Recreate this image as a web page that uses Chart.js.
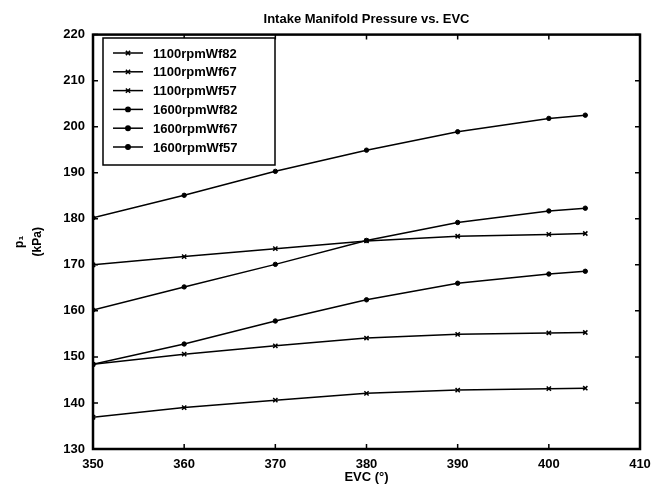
<!DOCTYPE html>
<html>
<head>
<meta charset="utf-8">
<script src="https://cdn.jsdelivr.net/npm/chart.js@4.4.1/dist/chart.umd.min.js"></script>
<style>
  html, body { margin: 0; padding: 0; background: #fff; }
  #wrap { width: 663px; height: 486px; }
</style>
</head>
<body>
<div id="wrap"><canvas id="chart"></canvas></div>
<script>
// EVC angle (deg) where each run was measured
const evc = [350, 360, 370, 380, 390, 400, 404];

// intake manifold pressure p1 (kPa) per run
const rpm1100Wf82 = [170.0, 171.8, 173.5, 175.2, 176.2, 176.6, 176.8];
const rpm1100Wf67 = [148.4, 150.6, 152.4, 154.1, 154.9, 155.2, 155.3];
const rpm1100Wf57 = [136.9, 139.0, 140.6, 142.1, 142.8, 143.1, 143.2];
const rpm1600Wf82 = [180.2, 185.1, 190.3, 194.9, 198.9, 201.8, 202.5];
const rpm1600Wf67 = [160.2, 165.2, 170.1, 175.3, 179.2, 181.7, 182.3];
const rpm1600Wf57 = [148.4, 152.8, 157.8, 162.4, 166.0, 168.0, 168.6];

const seriesNames = ['1100rpmWf82', '1100rpmWf67', '1100rpmWf57', '1600rpmWf82', '1600rpmWf67', '1600rpmWf57'];
const seriesValues = [rpm1100Wf82, rpm1100Wf67, rpm1100Wf57, rpm1600Wf82, rpm1600Wf67, rpm1600Wf57];

const xTicks = [350, 360, 370, 380, 390, 400, 410];
const yTicks = [130, 140, 150, 160, 170, 180, 190, 200, 210, 220];

const FONT = 'Liberation Sans, Arial, sans-serif';

const datasets = seriesValues.map((vals, i) => {
  const is1100 = i < 3;
  return {
    label: seriesNames[i],
    data: vals.map((v, k) => ({ x: evc[k], y: v })),
    showLine: true,
    borderColor: '#000',
    backgroundColor: '#000',
    borderWidth: 1.5,
    pointStyle: is1100 ? 'crossRot' : 'circle',
    pointRadius: is1100 ? 3 : 2.2,
    pointBorderWidth: is1100 ? 1.5 : 1,
    tension: 0
  };
});

// frame on all four sides plus inward ticks, matlab style
const framePlugin = {
  id: 'frame',
  afterDatasetsDraw(chart) {
    const { ctx, chartArea: a, scales } = chart;
    ctx.save();
    ctx.strokeStyle = '#000';
    ctx.lineWidth = 1.5;
    ctx.beginPath();
    xTicks.forEach(t => {
      const px = scales.x.getPixelForValue(t);
      ctx.moveTo(px, a.bottom); ctx.lineTo(px, a.bottom - 5);
      ctx.moveTo(px, a.top); ctx.lineTo(px, a.top + 5);
    });
    yTicks.forEach(t => {
      const py = scales.y.getPixelForValue(t);
      ctx.moveTo(a.left, py); ctx.lineTo(a.left + 5, py);
      ctx.moveTo(a.right, py); ctx.lineTo(a.right - 5, py);
    });
    ctx.stroke();
    ctx.lineWidth = 2.5;
    ctx.strokeRect(a.left, a.top, a.right - a.left, a.bottom - a.top);
    ctx.restore();
  }
};

// boxed legend inside the plot, top-left
const legendPlugin = {
  id: 'boxLegend',
  afterDraw(chart) {
    const { ctx } = chart;
    const left = 103, top = 38, w = 172, h = 127, rowH = 18.8;
    ctx.save();
    ctx.fillStyle = '#fff';
    ctx.fillRect(left, top, w, h);
    ctx.strokeStyle = '#000';
    ctx.lineWidth = 1.5;
    ctx.strokeRect(left, top, w, h);
    ctx.font = 'bold 13px ' + FONT;
    ctx.textBaseline = 'middle';
    chart.data.datasets.forEach((ds, i) => {
      const y = top + 15 + i * rowH;
      ctx.strokeStyle = '#000';
      ctx.fillStyle = '#000';
      ctx.lineWidth = 1.5;
      ctx.beginPath();
      ctx.moveTo(113, y); ctx.lineTo(143, y);
      ctx.stroke();
      Chart.helpers.drawPoint(ctx, {
        pointStyle: ds.pointStyle, radius: ds.pointRadius, borderWidth: ds.pointBorderWidth
      }, 128, y);
      if (ds.pointStyle === 'circle') ctx.fill();
      ctx.fillText(ds.label, 153, y + 1);
    });
    ctx.restore();
  }
};

new Chart(document.getElementById('chart'), {
  type: 'scatter',
  data: { datasets },
  plugins: [framePlugin, legendPlugin],
  options: {
    responsive: true,
    maintainAspectRatio: false,
    animation: false,
    layout: { padding: { left: 0, right: 23, top: 0, bottom: 0 } },
    plugins: {
      legend: { display: false },
      tooltip: { enabled: false },
      title: {
        display: true,
        text: 'Intake Manifold Pressure vs. EVC',
        fullSize: false,
        color: '#000',
        font: { family: FONT, size: 13, weight: 'bold' },
        padding: { top: 12, bottom: 7 }
      }
    },
    scales: {
      x: {
        type: 'linear',
        min: 350, max: 410,
        afterBuildTicks: s => { s.ticks = xTicks.map(v => ({ value: v })); },
        afterFit: s => { s.height = 37; },
        grid: { display: false, drawTicks: false },
        border: { display: false },
        ticks: { color: '#000', padding: 8, maxRotation: 0, font: { family: FONT, size: 13, weight: 'bold' } },
        title: {
          display: true, text: 'EVC (°)', color: '#000',
          font: { family: FONT, size: 13, weight: 'bold' },
          padding: { top: 0, bottom: 1 }
        }
      },
      y: {
        type: 'linear',
        min: 130, max: 220,
        afterBuildTicks: s => { s.ticks = yTicks.map(v => ({ value: v })); },
        afterFit: s => { s.width = 93; },
        grid: { display: false, drawTicks: false },
        border: { display: false },
        ticks: { color: '#000', padding: 8, font: { family: FONT, size: 13, weight: 'bold' } },
        title: {
          display: true, text: ['p₁', '(kPa)'], color: '#000',
          font: { family: FONT, size: 12, weight: 'bold', lineHeight: 1.5 },
          padding: { top: 11, bottom: 0 }
        }
      }
    }
  }
});
</script>
</body>
</html>
